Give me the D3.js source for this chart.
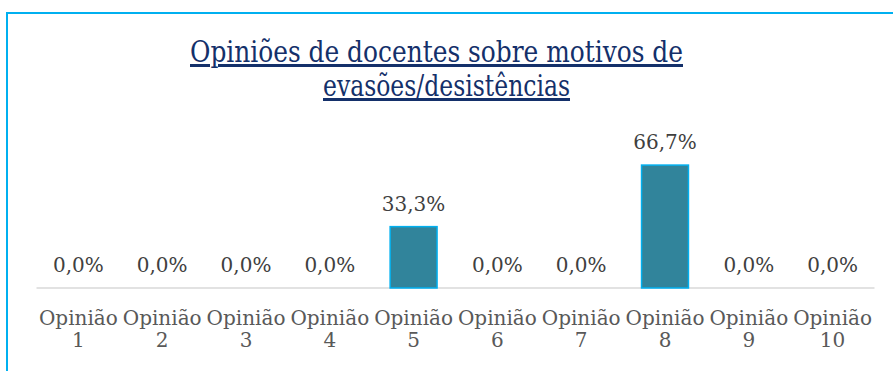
<!DOCTYPE html>
<html>
<head>
<meta charset="utf-8">
<script src="https://cdn.jsdelivr.net/npm/d3@7"></script>
<style>
  html, body { margin: 0; padding: 0; background: #fff; }
  svg { display: block; }
</style>
</head>
<body>
<svg id="chart" width="893" height="371"></svg>
<script>
// Chart data
const categories = ["Opinião 1", "Opinião 2", "Opinião 3", "Opinião 4", "Opinião 5",
                    "Opinião 6", "Opinião 7", "Opinião 8", "Opinião 9", "Opinião 10"];
const values = [0, 0, 0, 0, 0.333, 0, 0, 0.667, 0, 0];
const titleLines = ["Opiniões de docentes sobre motivos de", "evasões/desistências"];

const svg = d3.select("#chart");

// Chart frame (right and bottom edges fall outside the view)
svg.append("rect")
  .attr("x", 7).attr("y", 13)
  .attr("width", 900).attr("height", 400)
  .attr("fill", "#fff")
  .attr("stroke", "#00B0F0")
  .attr("stroke-width", 2);

// Title: two centred, underlined lines
const title = svg.append("g").attr("class", "title");
const titleCenters = [436.5, 446.5];
const titleBaselines = [62, 96];
const titleWidths = [493, 247];
titleLines.forEach((line, i) => {
  title.append("text")
    .attr("x", titleCenters[i])
    .attr("y", titleBaselines[i])
    .attr("text-anchor", "middle")
    .attr("font-family", "'DejaVu Serif Condensed', 'DejaVu Serif', serif")
    .attr("font-stretch", "condensed")
    .attr("font-size", 30)
    .attr("textLength", titleWidths[i])
    .attr("lengthAdjust", "spacingAndGlyphs")
    .attr("fill", "#14306A")
    .attr("text-decoration", "underline")
    .text(line);
});

// Scales
const baseY = 288;
const x = d3.scaleBand()
  .domain(categories)
  .range([36.5, 874.5])
  .paddingInner(0.44)
  .paddingOuter(0.22);

const y = d3.scaleLinear()
  .domain([0, 0.7])
  .range([baseY, baseY - 129]);

const fmt = v => d3.format(".1f")(v * 100).replace(".", ",") + "%";

// Category axis line
svg.append("line")
  .attr("x1", 36.5).attr("x2", 874.5)
  .attr("y1", baseY).attr("y2", baseY)
  .attr("stroke", "#D9D9D9")
  .attr("stroke-width", 1.5);

const rows = values.map((v, i) => ({ cat: categories[i], v }));

// Bars
svg.append("g").selectAll("rect")
  .data(rows.filter(d => d.v > 0))
  .join("rect")
  .attr("x", d => x(d.cat))
  .attr("y", d => y(d.v))
  .attr("width", x.bandwidth())
  .attr("height", d => baseY - y(d.v))
  .attr("fill", "#31849B")
  .attr("stroke", "#00B0F0")
  .attr("stroke-width", 1.5);

// Value labels
svg.append("g").selectAll("text")
  .data(rows)
  .join("text")
  .attr("x", d => x(d.cat) + x.bandwidth() / 2)
  .attr("y", d => y(d.v) - 16)
  .attr("text-anchor", "middle")
  .attr("font-family", "'DejaVu Serif', serif")
  .attr("font-size", 20)
  .attr("fill", "#404040")
  .text(d => fmt(d.v));

// Category labels, two lines each
const catLabels = svg.append("g").selectAll("text")
  .data(categories)
  .join("text")
  .attr("x", d => x(d) + x.bandwidth() / 2)
  .attr("y", 325)
  .attr("text-anchor", "middle")
  .attr("font-family", "'DejaVu Serif', serif")
  .attr("font-size", 20)
  .attr("fill", "#595959");
catLabels.each(function (d) {
  const parts = d.split(" ");
  const t = d3.select(this);
  const cx = x(d) + x.bandwidth() / 2;
  t.append("tspan").attr("x", cx).attr("dy", 0).text(parts[0]);
  t.append("tspan").attr("x", cx).attr("dy", 22).text(parts[1]);
});
</script>
</body>
</html>
